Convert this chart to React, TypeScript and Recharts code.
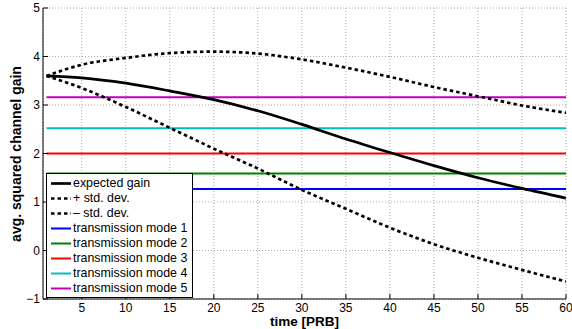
import React from "react";
import {
  LineChart,
  Line,
  XAxis,
  YAxis,
  CartesianGrid,
  Label,
} from "recharts";

const FONT = '"Liberation Sans", Arial, Helvetica, sans-serif';

// time [PRB]
const timeSteps = [1, 5, 10, 15, 20, 25, 30, 35, 40, 45, 50, 55, 60];
const expectedGain = [3.6, 3.56, 3.45, 3.29, 3.11, 2.88, 2.6, 2.3, 2.02, 1.75, 1.5, 1.28, 1.08];
const plusStd = [3.6, 3.83, 3.97, 4.07, 4.1, 4.06, 3.94, 3.77, 3.58, 3.37, 3.18, 2.99, 2.84];
const minusStd = [3.6, 3.35, 2.96, 2.53, 2.1, 1.69, 1.25, 0.86, 0.47, 0.13, -0.15, -0.4, -0.64];

const modeNames = [
  "transmission mode 1",
  "transmission mode 2",
  "transmission mode 3",
  "transmission mode 4",
  "transmission mode 5",
];
const modeLevels = [1.27, 1.59, 2.0, 2.52, 3.16];
const modeColors = ["#0000ff", "#008000", "#ff0000", "#00bfbf", "#bf00bf"];

const xTicks = [5, 10, 15, 20, 25, 30, 35, 40, 45, 50, 55, 60];
const yTicks = [-1, 0, 1, 2, 3, 4, 5];

const data = timeSteps.map((t, i) => {
  const row: Record<string, number> = {
    t,
    expected: expectedGain[i],
    plus: plusStd[i],
    minus: minusStd[i],
  };
  modeLevels.forEach((v, k) => {
    row["m" + (k + 1)] = v;
  });
  return row;
});

const fmt = (v: number) => (v < 0 ? "\u2212" + Math.abs(v) : String(v));

const BottomTick = (p: any) => (
  <g>
    <line x1={p.x} x2={p.x} y1={p.y} y2={p.y - 5} stroke="#000" />
    <text x={p.x} y={p.y + 12.5} textAnchor="middle" fontSize={12} fontFamily={FONT} fill="#000">
      {fmt(p.payload.value)}
    </text>
  </g>
);

const LeftTick = (p: any) => (
  <g>
    <line x1={p.x} x2={p.x + 5} y1={p.y} y2={p.y} stroke="#000" />
    <text x={p.x - 3} y={p.y + 4} textAnchor="end" fontSize={12} fontFamily={FONT} fill="#000">
      {fmt(p.payload.value)}
    </text>
  </g>
);

const TopTick = (p: any) => (
  <line x1={p.x} x2={p.x} y1={p.y} y2={p.y + 5} stroke="#000" />
);

const RightTick = (p: any) => (
  <line x1={p.x} x2={p.x - 5} y1={p.y} y2={p.y} stroke="#000" />
);

const legendItems = [
  { label: "expected gain", color: "#000", dash: undefined as string | undefined, width: 2.7 },
  { label: "+ std. dev.", color: "#000", dash: "3.5 3", width: 2.7 },
  { label: "\u2013 std. dev.", color: "#000", dash: "3.5 3", width: 2.7 },
  ...modeNames.map((n, i) => ({ label: n, color: modeColors[i], dash: undefined, width: 2 })),
];

export default function App() {
  return (
    <div style={{ position: "absolute", left: 0, top: 0, width: 572, height: 329, background: "#fff" }}>
      <LineChart
        width={572}
        height={329}
        data={data}
        margin={{ top: 8, right: 6, left: 0, bottom: 0 }}
      >
        <CartesianGrid stroke="#aaa" strokeDasharray="1 2" />
        <XAxis
          dataKey="t"
          type="number"
          domain={[0.6, 60]}
          ticks={xTicks}
          allowDataOverflow
          height={30}
          tickSize={0}
          tickMargin={0}
          tickLine={false}
          axisLine={{ stroke: "#000" }}
          tick={BottomTick}
          interval={0}
        >
          <Label
            content={() => (
              <text x={304.5} y={326} textAnchor="middle" fontSize={13.5} fontWeight="bold" fontFamily={FONT} fill="#000">
                time [PRB]
              </text>
            )}
          />
        </XAxis>
        <XAxis
          xAxisId="top"
          dataKey="t"
          type="number"
          orientation="top"
          domain={[0.6, 60]}
          ticks={xTicks}
          allowDataOverflow
          height={0}
          tickSize={0}
          tickMargin={0}
          tickLine={false}
          axisLine={{ stroke: "#000" }}
          tick={TopTick}
          interval={0}
        />
        <YAxis
          type="number"
          domain={[-1, 5]}
          ticks={yTicks}
          width={43}
          tickSize={0}
          tickMargin={0}
          tickLine={false}
          axisLine={{ stroke: "#000" }}
          tick={LeftTick}
          interval={0}
        >
          <Label
            content={() => (
              <text
                transform="translate(21,154) rotate(-90)"
                textAnchor="middle"
                fontSize={14}
                fontWeight="bold"
                fontFamily={FONT}
                fill="#000"
              >
                avg. squared channel gain
              </text>
            )}
          />
        </YAxis>
        <YAxis
          yAxisId="right"
          orientation="right"
          type="number"
          domain={[-1, 5]}
          ticks={yTicks}
          width={0}
          tickSize={0}
          tickMargin={0}
          tickLine={false}
          axisLine={{ stroke: "#000" }}
          tick={RightTick}
          interval={0}
        />
        {modeLevels.map((_, k) => (
          <Line
            key={k}
            dataKey={"m" + (k + 1)}
            stroke={modeColors[k]}
            strokeWidth={2}
            dot={false}
            isAnimationActive={false}
          />
        ))}
        <Line type="monotone" dataKey="plus" stroke="#000" strokeWidth={2.7} strokeDasharray="3.5 3" dot={false} isAnimationActive={false} />
        <Line type="monotone" dataKey="minus" stroke="#000" strokeWidth={2.7} strokeDasharray="3.5 3" dot={false} isAnimationActive={false} />
        <Line type="monotone" dataKey="expected" stroke="#000" strokeWidth={2.7} dot={false} isAnimationActive={false} />
      </LineChart>
      <div
        style={{
          position: "absolute",
          left: 46,
          top: 173,
          width: 145,
          height: 121,
          border: "1px solid #000",
          background: "#fff",
          paddingTop: 2,
          boxSizing: "content-box",
          fontFamily: FONT,
          fontSize: 12.4,
          color: "#000",
        }}
      >
        {legendItems.map((it) => (
          <div key={it.label} style={{ display: "flex", alignItems: "center", height: 15 }}>
            <svg width={26} height={15} style={{ flex: "none" }}>
              <line x1={4} x2={24} y1={7.5} y2={7.5} stroke={it.color} strokeWidth={it.width} strokeDasharray={it.dash} />
            </svg>
            <span style={{ whiteSpace: "nowrap", lineHeight: "15px" }}>{it.label}</span>
          </div>
        ))}
      </div>
    </div>
  );
}
